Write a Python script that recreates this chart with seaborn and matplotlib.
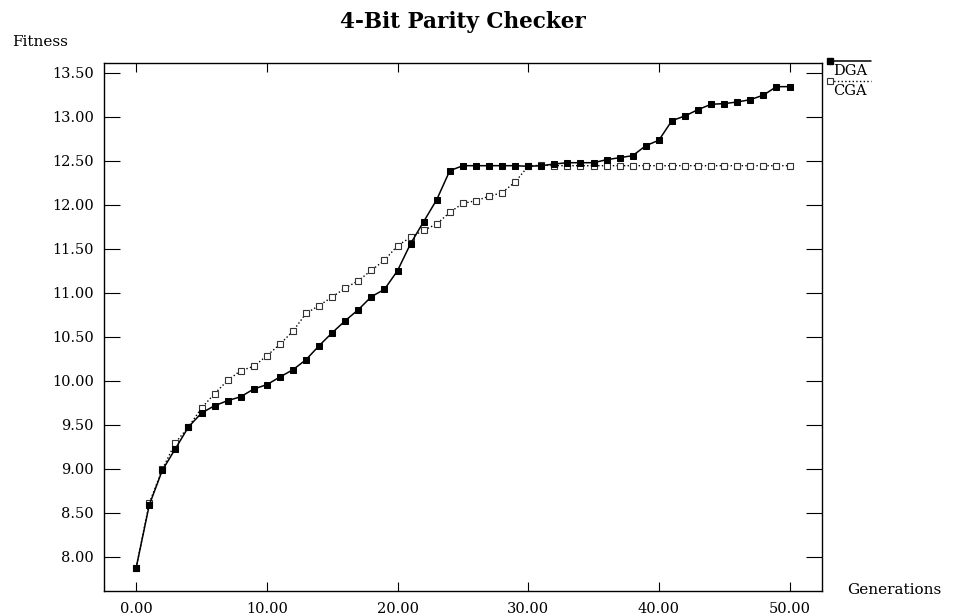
import pandas as pd
import seaborn as sns
import matplotlib.pyplot as plt
from matplotlib.lines import Line2D
from matplotlib.legend_handler import HandlerLine2D

# values
generations = list(range(51))
dga = [7.875, 8.587, 8.982, 9.227, 9.474, 9.633, 9.716, 9.773, 9.818, 9.906,
       9.955, 10.042, 10.125, 10.239, 10.398, 10.545, 10.682, 10.807, 10.955, 11.038,
       11.250, 11.557, 11.807, 12.057, 12.386, 12.443, 12.443, 12.443, 12.443, 12.443,
       12.436, 12.443, 12.462, 12.477, 12.477, 12.477, 12.511, 12.534, 12.557, 12.670,
       12.732, 12.955, 13.008, 13.080, 13.141, 13.148, 13.167, 13.193, 13.245, 13.341,
       13.341]
cga = [7.875, 8.607, 8.993, 9.295, 9.474, 9.690, 9.852, 10.004, 10.114, 10.163,
       10.284, 10.413, 10.564, 10.765, 10.854, 10.951, 11.053, 11.136, 11.255, 11.368,
       11.534, 11.629, 11.709, 11.780, 11.913, 12.015, 12.045, 12.095, 12.136, 12.258,
       12.436, 12.450, 12.443, 12.443, 12.443, 12.443, 12.443, 12.443, 12.443, 12.443,
       12.443, 12.443, 12.443, 12.443, 12.443, 12.443, 12.443, 12.443, 12.443, 12.443,
       12.443]
x_ticks = [0, 10, 20, 30, 40, 50]
y_ticks = [8.0, 8.5, 9.0, 9.5, 10.0, 10.5, 11.0, 11.5, 12.0, 12.5, 13.0, 13.5]


class LeftMarkerHandler(HandlerLine2D):
    # legend sample with the marker at the left end of the line
    def create_artists(self, *args, **kwargs):
        artists = super().create_artists(*args, **kwargs)
        for a in artists:
            a.set_markevery([0])
        return artists


def plot_data():
    sns.set_style('ticks')
    plt.rcParams['font.family'] = ['DejaVu Serif']
    plt.rcParams['text.color'] = 'black'
    plt.rcParams['axes.labelcolor'] = 'black'

    df = pd.DataFrame({'Generations': generations, 'DGA': dga, 'CGA': cga})

    fig = plt.figure(figsize=(9.54, 6.15), dpi=100)
    ax = fig.add_axes([0.1085, 0.0395, 0.7528, 0.8581])

    sns.lineplot(data=df, x='Generations', y='CGA', ax=ax, color='black',
                 linestyle=':', linewidth=1.0, marker='s', markersize=4,
                 markerfacecolor='white', markeredgecolor='#333333',
                 markeredgewidth=0.8, zorder=2)
    sns.lineplot(data=df, x='Generations', y='DGA', ax=ax, color='black',
                 linestyle='-', linewidth=1.1, marker='s', markersize=4.5,
                 markerfacecolor='black', markeredgecolor='black', zorder=3)

    ax.set_xlim(-2.5, 52.46)
    ax.set_ylim(7.614, 13.61)
    ax.set_xticks(x_ticks)
    ax.set_xticklabels([f'{v:.2f}' for v in x_ticks])
    ax.set_yticks(y_ticks)
    ax.set_yticklabels([f'{v:.2f}' for v in y_ticks])
    ax.tick_params(direction='in', top=True, right=True, labelsize=10.5,
                   width=0.8, colors='black')
    ax.tick_params(axis='y', length=11.5, pad=7)
    ax.tick_params(axis='x', length=6.5, pad=8)
    for s in ax.spines.values():
        s.set_linewidth(1.0)
        s.set_color('black')

    ax.set_title('4-Bit Parity Checker', fontsize=15.5, fontweight='bold',
                 pad=25, color='black')
    ax.set_ylabel('Fitness', rotation=0, fontsize=11, ha='left', va='center')
    ax.yaxis.set_label_coords(-0.1274, 1.0398)
    ax.set_xlabel('Generations', fontsize=11, ha='left', va='center')
    ax.xaxis.set_label_coords(1.0352, 0.0013)

    handles = [
        Line2D([], [], color='black', linestyle='-', linewidth=1.1, marker='s',
               markersize=4.5, markerfacecolor='black', label='DGA'),
        Line2D([], [], color='black', linestyle=':', linewidth=1.0, marker='s',
               markersize=4, markerfacecolor='white', markeredgecolor='#333333',
               markeredgewidth=0.8, label='CGA'),
    ]
    leg = fig.legend(handles=handles, loc='upper left',
                     bbox_to_anchor=(830 / 954, 1 - 55 / 615), frameon=False,
                     fontsize=10.5, handlelength=2.8, handletextpad=-2.6,
                     labelspacing=0.4, borderpad=0, borderaxespad=0,
                     handler_map={Line2D: LeftMarkerHandler()})
    for t in leg.get_texts():
        t.set_y(-9)
        t.set_color('black')

    fig.savefig('out.png', dpi=100)
    plt.close(fig)


if __name__ == "__main__":
    plot_data()
